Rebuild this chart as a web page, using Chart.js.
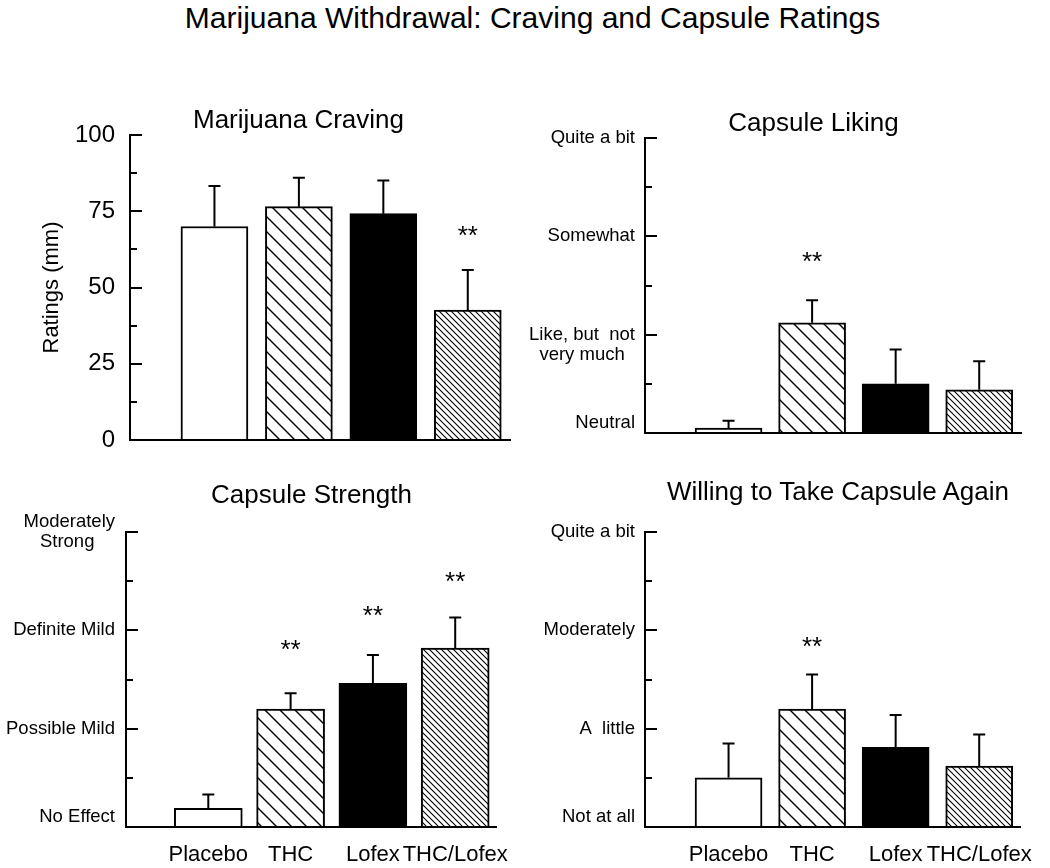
<!DOCTYPE html>
<html>
<head>
<meta charset="utf-8">
<script src="https://cdn.jsdelivr.net/npm/chart.js@4.4.1/dist/chart.umd.min.js"></script>
<style>
html, body { margin: 0; padding: 0; background: #fff; }
body { width: 1050px; height: 868px; position: relative; overflow: hidden;
       font-family: "Liberation Sans", Arial, Helvetica, sans-serif; color: #000; }
.t { position: absolute; white-space: nowrap; text-align: center; z-index: 2; }
.panel { position: absolute; z-index: 1; }
</style>
</head>
<body>
<script>
// ---------------- data ----------------
const categories = ['Placebo', 'THC', 'Lofex', 'THC/Lofex'];

const cravingMeans   = [70, 76.5, 74.2, 42.6];
const cravingErrTops = [83.3, 86, 85.1, 55.7];
const cravingStars   = [null, null, null, 68.4];
const cravingTicks   = ['0', '25', '50', '75', '100'];

const likingMeans   = [0.05, 1.12, 0.5, 0.44];
const likingErrTops = [0.125, 1.35, 0.85, 0.73];
const likingStars   = [null, 1.79, null, null];
const likingTicks   = ['Neutral', ['Like, but  not', 'very much'], 'Somewhat', 'Quite a bit'];

const strengthMeans   = [0.19, 1.2, 1.46, 1.82];
const strengthErrTops = [0.33, 1.36, 1.75, 2.13];
const strengthStars   = [null, 1.85, 2.2, 2.54];
const strengthTicks   = ['No Effect', 'Possible Mild', 'Definite Mild', ['Moderately', 'Strong']];

const againMeans   = [0.5, 1.2, 0.81, 0.62];
const againErrTops = [0.85, 1.55, 1.14, 0.94];
const againStars   = [null, 1.88, null, null];
const againTicks   = ['Not at all', 'A  little', 'Moderately', 'Quite a bit'];

const mainTitle = 'Marijuana Withdrawal: Craving and Capsule Ratings';
const panelTitles = ['Marijuana Craving', 'Capsule Liking', 'Capsule Strength', 'Willing to Take Capsule Again'];
const cravingAxisTitle = 'Ratings (mm)';

// ---------------- styling / layout ----------------
const FONT = "'Liberation Sans', Arial, Helvetica, sans-serif";

function addTitle(text, cx, baseline, size) {
  const d = document.createElement('div');
  d.className = 't';
  d.textContent = text;
  d.style.fontSize = size + 'px';
  d.style.lineHeight = size + 'px';
  d.style.left = (cx - 450) + 'px';
  d.style.width = '900px';
  d.style.top = (baseline - 0.8465 * size) + 'px';
  document.body.appendChild(d);
}
addTitle(mainTitle, 532.5, 28, 30);
addTitle(panelTitles[0], 298.5, 128, 26);
addTitle(panelTitles[1], 813.5, 131, 26);
addTitle(panelTitles[2], 311.5, 503, 26);
addTitle(panelTitles[3], 838, 500, 26);

function hatch(period, lw) {
  const c = document.createElement('canvas');
  c.width = c.height = period;
  const g = c.getContext('2d');
  g.fillStyle = '#fff';
  g.fillRect(0, 0, period, period);
  g.strokeStyle = '#000';
  g.lineWidth = lw;
  g.beginPath();
  g.moveTo(0, 0); g.lineTo(period, period);
  g.moveTo(-period / 2, period / 2); g.lineTo(period / 2, period * 1.5);
  g.moveTo(period / 2, -period / 2); g.lineTo(period * 1.5, period / 2);
  g.stroke();
  return g.createPattern(c, 'repeat');
}
const fills = ['#ffffff', hatch(15, 1.4), '#000000', hatch(6, 1.1)];

const measCtx = document.createElement('canvas').getContext('2d');
function padCenter(lines, size) {
  measCtx.font = size + 'px ' + FONT;
  const ws = lines.map(l => measCtx.measureText(l).width);
  const wmax = Math.max.apply(null, ws);
  const sp = measCtx.measureText(' ').width;
  return lines.map((l, i) => l + ' '.repeat(Math.max(0, Math.round((wmax - ws[i]) / 2 / sp))));
}

const extras = {
  id: 'extras',
  afterDatasetsDraw(chart, args, o) {
    const ctx = chart.ctx, ys = chart.scales.y, area = chart.chartArea;
    ctx.save();
    ctx.strokeStyle = '#000';
    ctx.fillStyle = '#000';
    ctx.lineWidth = 2;
    // inward major / minor ticks
    const n = Math.round((ys.max - ys.min) / o.minorStep);
    for (let k = 0; k <= n; k++) {
      const v = ys.min + k * o.minorStep;
      const r = v / o.majorStep;
      const isMajor = Math.abs(r - Math.round(r)) < 1e-6;
      const py = Math.round(ys.getPixelForValue(v));
      ctx.beginPath();
      ctx.moveTo(area.left, py);
      ctx.lineTo(area.left + (isMajor ? 12 : 7), py);
      ctx.stroke();
    }
    // error bars
    const meta = chart.getDatasetMeta(0);
    meta.data.forEach((bar, i) => {
      const top = o.errTops[i];
      if (top == null) return;
      const ye = ys.getPixelForValue(top);
      ctx.beginPath();
      ctx.moveTo(bar.x, bar.y);
      ctx.lineTo(bar.x, ye);
      ctx.moveTo(bar.x - 6, ye);
      ctx.lineTo(bar.x + 6, ye);
      ctx.stroke();
    });
    // significance stars
    ctx.font = '26px ' + FONT;
    ctx.textAlign = 'center';
    ctx.textBaseline = 'alphabetic';
    const m = ctx.measureText('**');
    const mid = (m.actualBoundingBoxAscent - m.actualBoundingBoxDescent) / 2;
    meta.data.forEach((bar, i) => {
      const s = o.stars[i];
      if (s == null) return;
      ctx.fillText('**', bar.x, ys.getPixelForValue(s) + mid);
    });
    ctx.restore();
  }
};

function build(p) {
  const wrap = document.createElement('div');
  wrap.className = 'panel';
  wrap.style.left = p.box[0] + 'px';
  wrap.style.top = p.box[1] + 'px';
  const cv = document.createElement('canvas');
  cv.width = p.box[2];
  cv.height = p.box[3];
  cv.style.width = p.box[2] + 'px';
  cv.style.height = p.box[3] + 'px';
  wrap.appendChild(cv);
  document.body.appendChild(wrap);

  const yW = p.area[0] - p.box[0];
  const padTop = p.area[1] - p.box[1];
  const padRight = p.box[0] + p.box[2] - p.area[2];
  const xH = p.box[1] + p.box[3] - p.area[3];

  const yCallback = function (value) {
    const r = value / p.majorStep;
    const idx = Math.round(r);
    if (Math.abs(r - idx) > 1e-6) return '';
    const lab = p.ticks[idx];
    if (lab === undefined) return '';
    if (Array.isArray(lab)) {
      const lines = padCenter(lab, p.yFont);
      return p.firstLineOnTick ? [''].concat(lines) : lines;
    }
    if (idx === 0 && p.liftBottom) return [lab, ''];
    return lab;
  };

  new Chart(cv, {
    type: 'bar',
    data: {
      datasets: [{
        data: p.means.map((v, i) => ({ x: i + 1, y: v })),
        backgroundColor: fills,
        borderColor: '#000',
        borderWidth: 2,
        barThickness: p.barW
      }]
    },
    options: {
      responsive: false,
      animation: false,
      devicePixelRatio: 1,
      layout: { padding: { top: padTop, right: padRight, left: 0, bottom: 0 } },
      plugins: {
        legend: { display: false },
        tooltip: { enabled: false },
        extras: { errTops: p.errTops, stars: p.stars, majorStep: p.majorStep, minorStep: p.majorStep / 2 }
      },
      scales: {
        x: {
          type: 'linear', min: 0, max: 4.5, offset: false,
          grid: { display: false, drawTicks: false, offset: false },
          border: { display: true, color: '#000', width: 2, z: 1 },
          ticks: {
            display: p.showX, stepSize: 1, includeBounds: false, autoSkip: false,
            maxRotation: 0, minRotation: 0, padding: 15, color: '#000',
            font: { family: FONT, size: 22 },
            callback: v => (Number.isInteger(v) && v >= 1 && v <= categories.length) ? categories[v - 1] : ''
          },
          afterFit: s => { s.height = xH; }
        },
        y: {
          min: 0, max: p.yMax,
          grid: { display: false, drawTicks: false },
          border: { display: true, color: '#000', width: 2, z: 1 },
          ticks: {
            stepSize: p.majorStep, autoSkip: false, padding: p.yPad, color: '#000',
            font: { family: FONT, size: p.yFont, lineHeight: 1.1 },
            callback: yCallback
          },
          title: p.yTitle ? {
            display: true, text: p.yTitle, color: '#000',
            font: { family: FONT, size: 22 }, padding: { top: 39, bottom: 0 }
          } : { display: false },
          afterFit: s => { s.width = yW; }
        }
      }
    },
    plugins: [extras]
  });
}

build({ box: [0, 100, 525, 372], area: [130, 135, 510, 440],
  means: cravingMeans, errTops: cravingErrTops, stars: cravingStars, ticks: cravingTicks,
  yMax: 100, majorStep: 25, yFont: 24, yPad: 15, yTitle: cravingAxisTitle,
  showX: false, barW: 67, liftBottom: false, firstLineOnTick: false });

build({ box: [525, 100, 525, 372], area: [645, 138, 1021, 433],
  means: likingMeans, errTops: likingErrTops, stars: likingStars, ticks: likingTicks,
  yMax: 3, majorStep: 1, yFont: 18.5, yPad: 10, yTitle: null,
  showX: false, barW: 67, liftBottom: true, firstLineOnTick: true });

build({ box: [0, 490, 525, 378], area: [126, 532, 505, 827],
  means: strengthMeans, errTops: strengthErrTops, stars: strengthStars, ticks: strengthTicks,
  yMax: 3, majorStep: 1, yFont: 18.5, yPad: 11, yTitle: null,
  showX: true, barW: 68, liftBottom: true, firstLineOnTick: false });

build({ box: [525, 490, 525, 378], area: [645, 532, 1021, 827],
  means: againMeans, errTops: againErrTops, stars: againStars, ticks: againTicks,
  yMax: 3, majorStep: 1, yFont: 18.5, yPad: 10, yTitle: null,
  showX: true, barW: 67, liftBottom: true, firstLineOnTick: false });
</script>
</body>
</html>
